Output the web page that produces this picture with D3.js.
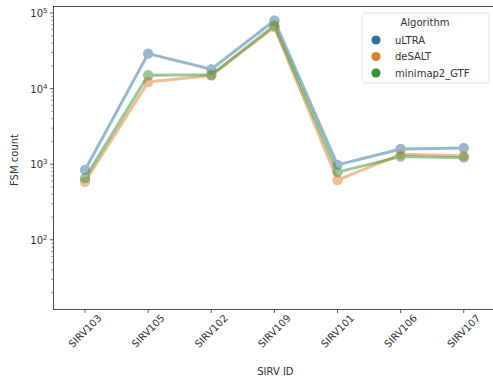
<!DOCTYPE html>
<html>
<head>
<meta charset="utf-8">
<script src="https://cdn.jsdelivr.net/npm/d3@7"></script>
<style>
  html, body { margin: 0; padding: 0; background: #fff; }
  svg { display: block; font-family: "DejaVu Sans", sans-serif; }
</style>
</head>
<body>
<svg id="chart" width="493" height="383"></svg>
<script>
// SIRV transcripts on the x axis
const categories = ["SIRV103", "SIRV105", "SIRV102", "SIRV109", "SIRV101", "SIRV106", "SIRV107"];
// FSM counts per algorithm
const algorithms = ["uLTRA", "deSALT", "minimap2_GTF"];
const ultraValues    = [840, 29000, 18000, 79500, 980, 1590, 1640];
const desaltValues   = [585, 12200, 14900, 65000, 615, 1350, 1290];
const minimapValues  = [655, 15000, 15200, 68000, 785, 1260, 1220];
const colors = ["#3274a1", "#e1812c", "#3a923a"];
const yTickValues = [1e2, 1e3, 1e4, 1e5];
const yTickExponents = ["2", "3", "4", "5"];

const seriesValues = [ultraValues, desaltValues, minimapValues];

const svg = d3.select("#chart");
const plotL = 53.5, plotR = 495.3, plotT = 6.5, plotB = 309.5;

const x = d3.scalePoint().domain(categories).range([plotL, plotR]).padding(0.5);
const y = d3.scaleLog().domain([10 ** 1.078, 10 ** 5.086]).range([plotB, plotT]);

// Lines and markers, one group per algorithm
seriesValues.forEach((vals, i) => {
  const g = svg.append("g").attr("opacity", 0.5);
  const pts = categories.map((c, j) => [x(c), y(vals[j])]);
  g.append("path")
    .attr("d", d3.line()(pts))
    .attr("fill", "none")
    .attr("stroke", colors[i])
    .attr("stroke-width", 3)
    .attr("stroke-linejoin", "round");
  g.selectAll("circle").data(pts).join("circle")
    .attr("cx", d => d[0]).attr("cy", d => d[1])
    .attr("r", 5.2)
    .attr("fill", colors[i]);
});

// Y axis: major ticks with exponent labels, minor ticks for 2..9
const yAxisG = svg.append("g");
const minor = [];
for (let e = 1; e <= 5; e++) for (let m = 2; m <= 9; m++) {
  const v = m * 10 ** e;
  if (y(v) <= plotB && y(v) >= plotT) minor.push(v);
}
yAxisG.selectAll("line.minor").data(minor).join("line")
  .attr("x1", plotL - 2).attr("x2", plotL)
  .attr("y1", d => y(d)).attr("y2", d => y(d))
  .attr("stroke", "#333").attr("stroke-width", 0.6);
yAxisG.selectAll("line.major").data(yTickValues).join("line")
  .attr("x1", plotL - 3.5).attr("x2", plotL)
  .attr("y1", d => y(d)).attr("y2", d => y(d))
  .attr("stroke", "#333").attr("stroke-width", 0.8);
const yl = yAxisG.selectAll("text.ylab").data(yTickValues).join("text")
  .attr("x", plotL - 6).attr("y", d => y(d) + 4)
  .attr("text-anchor", "end")
  .attr("font-size", 10).attr("fill", "#333");
yl.append("tspan").text("10");
yl.append("tspan").attr("dy", -4).attr("font-size", 7).text((d, i) => yTickExponents[i]);

// X axis ticks and rotated labels
const xAxisG = svg.append("g");
xAxisG.selectAll("line").data(categories).join("line")
  .attr("x1", d => x(d)).attr("x2", d => x(d))
  .attr("y1", plotB).attr("y2", plotB + 3.5)
  .attr("stroke", "#333").attr("stroke-width", 0.8);
xAxisG.selectAll("text").data(categories).join("text")
  .attr("transform", d => `translate(${x(d)},${331}) rotate(-45)`)
  .attr("text-anchor", "middle")
  .attr("dy", "0.35em")
  .attr("font-size", 10).attr("fill", "#333")
  .text(d => d);

// Spines
svg.append("rect")
  .attr("x", plotL).attr("y", plotT)
  .attr("width", plotR - plotL).attr("height", plotB - plotT)
  .attr("fill", "none").attr("stroke", "#222").attr("stroke-width", 0.8);

// Axis titles
svg.append("text")
  .attr("x", (plotL + plotR) / 2 + 1).attr("y", 375)
  .attr("text-anchor", "middle").attr("font-size", 10).attr("fill", "#333")
  .text("SIRV ID");
svg.append("text")
  .attr("transform", `translate(18,${(plotT + plotB) / 2 + 2}) rotate(-90)`)
  .attr("text-anchor", "middle").attr("font-size", 10).attr("fill", "#333")
  .text("FSM count");

// Legend
const lg = svg.append("g").attr("transform", "translate(362,13)");
lg.append("rect")
  .attr("x", 0).attr("y", 0).attr("width", 127).attr("height", 70).attr("rx", 2)
  .attr("fill", "#fff").attr("fill-opacity", 0.8)
  .attr("stroke", "#ddd").attr("stroke-width", 0.8);
lg.append("text")
  .attr("x", 63).attr("y", 12.5).attr("text-anchor", "middle")
  .attr("font-size", 10).attr("fill", "#333").text("Algorithm");
algorithms.forEach((name, i) => {
  const yy = 27 + i * 16.5;
  lg.append("circle").attr("cx", 14).attr("cy", yy).attr("r", 4.6).attr("fill", colors[i]);
  lg.append("text").attr("x", 33).attr("y", yy + 3.5)
    .attr("font-size", 10).attr("fill", "#333").text(name);
});
</script>
</body>
</html>
